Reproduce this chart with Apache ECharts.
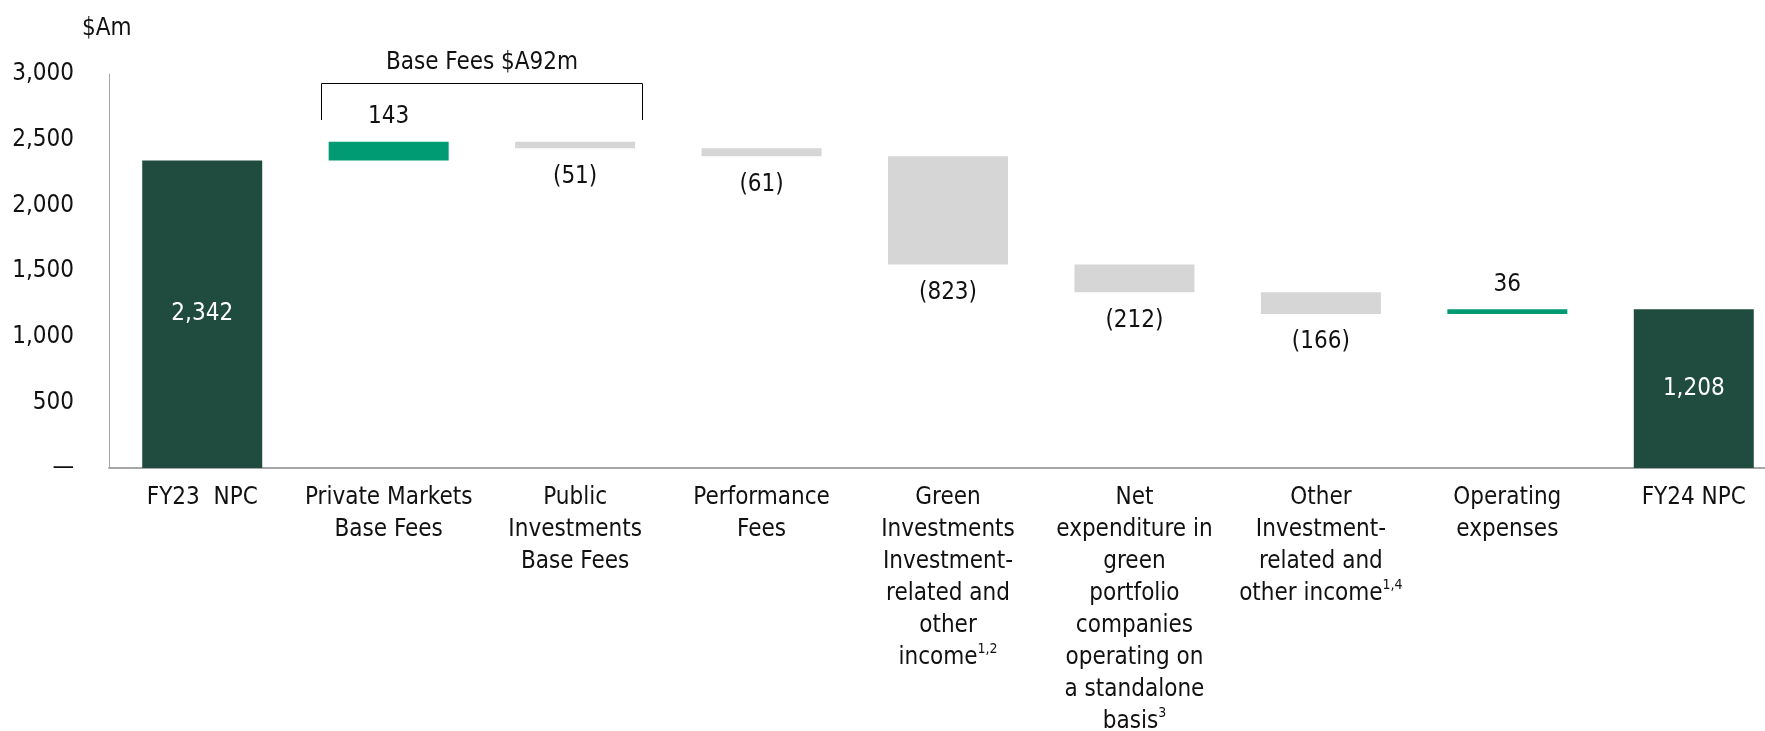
<!DOCTYPE html>
<html>
<head>
<meta charset="utf-8">
<script src="https://cdn.jsdelivr.net/npm/echarts@6/dist/echarts.min.js"></script>
<style>
  html, body { margin: 0; padding: 0; background: #fff; overflow: hidden; }
  #container { width: 1800px; height: 731px; }
</style>
</head>
<body>
<div id="container"></div>
<script>
var categories = ['FY23  NPC', 'Private Markets\nBase Fees', 'Public\nInvestments\nBase Fees', 'Performance\nFees',
    'Green\nInvestments\nInvestment-\nrelated and\nother\nincome',
    'Net\nexpenditure in\ngreen\nportfolio\ncompanies\noperating on\na standalone\nbasis',
    'Other\nInvestment-\nrelated and\nother income', 'Operating\nexpenses', 'FY24 NPC'];
var notes = ['', '', '', '', '1,2', '3', '1,4', '', ''];
var kinds = ['total', 'step', 'step', 'step', 'step', 'step', 'step', 'step', 'total'];
var deltas = [2342, 143, -51, -61, -823, -212, -166, 36, 1208];
var yMin = 0, yMax = 3000, yStep = 500;

var FONT = "'Liberation Sans Narrow', 'DejaVu Sans Condensed', Roboto, sans-serif";
var DARK = '#1f4c3e', GREEN = '#009b72', GREY = '#d6d6d6';

var dom = document.getElementById('container');
var myChart = echarts.init(dom);

// waterfall: invisible base + visible step
var base = [], steps = [];
var running = 0;
for (var i = 0; i < deltas.length; i++) {
    var d = deltas[i];
    var item = { value: Math.abs(d), itemStyle: {}, label: { show: true } };
    if (kinds[i] == 'total') {
        base.push(0);
        running = d;
        item.itemStyle.color = DARK;
        item.label.position = 'inside';
        item.label.color = '#fff';
    } else if (d >= 0) {
        base.push(running);
        running += d;
        item.itemStyle.color = GREEN;
        item.label.position = 'top';
        item.label.distance = 13;
    } else {
        running += d;
        base.push(running);
        item.itemStyle.color = GREY;
        item.label.position = 'bottom';
        item.label.distance = 16;
    }
    steps.push(item);
}

var fmt = function(n){
    return String(n).replace(/\B(?=(\d{3})+(?!\d))/g, ',');
}

var option = {
    animation: false,
    textStyle: { fontFamily: FONT },
    grid: { left: 109, top: 74, width: 1678, bottom: 263, outerBoundsMode: 'none', containLabel: false },
    xAxis: {
        type: 'category',
        data: categories,
        axisLine: { lineStyle: { color: '#a6a6a6', width: 2 } },
        axisTick: { show: false },
        axisLabel: {
            interval: 0,
            margin: 14,
            fontSize: 24,
            lineHeight: 32,
            color: '#111',
            fontFamily: FONT,
            formatter: function(v, idx){
                return notes[idx] ? v + '{sup|' + notes[idx] + '}' : v;
            },
            rich: {
                sup: { fontSize: 14, lineHeight: 18, verticalAlign: 'top', color: '#111', fontFamily: FONT }
            }
        }
    },
    yAxis: {
        type: 'value',
        min: yMin,
        max: yMax,
        interval: yStep,
        splitLine: { show: false },
        axisTick: { show: false },
        axisLine: { show: true, lineStyle: { color: '#a6a6a6', width: 1 } },
        axisLabel: {
            margin: 35,
            fontSize: 24,
            color: '#111',
            fontFamily: FONT,
            formatter: function(v){ return v == 0 ? '—' : fmt(v); }
        }
    },
    series: [
        {
            type: 'bar',
            stack: 'wf',
            silent: true,
            itemStyle: { color: 'transparent' },
            data: base,
            barWidth: 120
        },
        {
            type: 'bar',
            stack: 'wf',
            barWidth: 120,
            data: steps,
            label: {
                fontSize: 24,
                color: '#111',
                fontFamily: FONT,
                formatter: function(p){
                    var d = deltas[p.dataIndex];
                    if (kinds[p.dataIndex] == 'total' || d >= 0) return fmt(Math.abs(d));
                    return '(' + fmt(-d) + ')';
                }
            }
        }
    ]
};
myChart.setOption(option);

// bracket over the two base-fee bars
var pA = myChart.convertToPixel({ gridIndex: 0 }, [1, 0]);
var pB = myChart.convertToPixel({ gridIndex: 0 }, [2, 0]);
var bx1 = Math.round(pA[0] - 68) + 0.5, bx2 = Math.round(pB[0] + 67) + 0.5;
myChart.setOption({
    graphic: [
        { type: 'text', left: 82, top: 17, style: { text: '$Am', font: '24px ' + FONT, fill: '#111' } },
        { type: 'polyline', shape: { points: [[bx1, 120], [bx1, 83.5], [bx2, 83.5], [bx2, 120]] },
          style: { stroke: '#000', lineWidth: 1, fill: null } },
        { type: 'text', x: (bx1 + bx2) / 2, y: 63,
          style: { text: 'Base Fees $A92m', font: '24px ' + FONT, fill: '#111', align: 'center', verticalAlign: 'middle' } }
    ]
});
</script>
</body>
</html>
